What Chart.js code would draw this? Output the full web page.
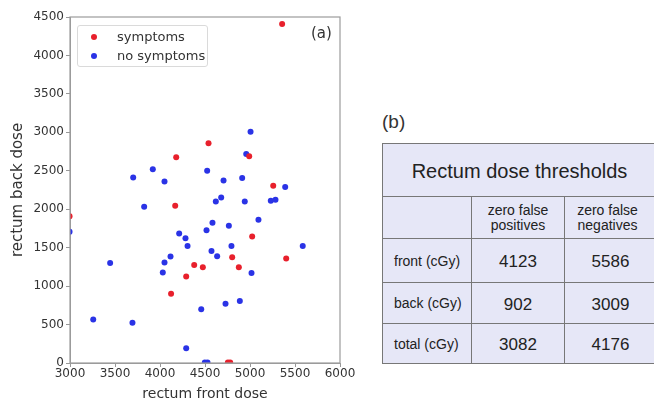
<!DOCTYPE html>
<html>
<head>
<meta charset="utf-8">
<script src="https://cdn.jsdelivr.net/npm/chart.js@4"></script>
<style>
  html, body { margin: 0; padding: 0; background: #fff; }
  body { width: 654px; height: 401px; position: relative; overflow: hidden; }
  #scatter { position: absolute; left: 0; top: 0; }
  .legend {
    position: absolute; left: 77px; top: 25px; width: 129px; height: 40px;
    border: 1px solid #dadada; border-radius: 3px; background: rgba(255,255,255,0.85);
    font-family: "DejaVu Sans", sans-serif; font-size: 13px; color: #333;
  }
  .legend .row { position: absolute; left: 0; height: 16px; line-height: 16px; }
  .legend .dot { position: absolute; left: 13px; top: 5px; width: 6px; height: 6px; border-radius: 50%; }
  .legend .lbl { position: absolute; left: 39px; top: 0; white-space: nowrap; }
  .tag { position: absolute; color: #333; }
  table.thr {
    position: absolute; left: 382px; top: 143px; width: 274px;
    border-collapse: collapse; table-layout: fixed;
    background: #e6e7f7; font-family: "Liberation Sans", Arial, sans-serif; color: #222;
  }
  table.thr td { border: 1px solid #777; padding: 0; text-align: center; vertical-align: middle; }
  table.thr td.rl { text-align: left; padding-left: 11px; font-size: 14px; }
  table.thr td.hd { font-size: 14px; line-height: 15px; }
  table.thr td.v { font-size: 17px; padding-top: 3px; }
</style>
</head>
<body>
<canvas id="scatter" width="360" height="401"></canvas>

<div class="legend">
  <div class="row" style="top:3px;"><span class="dot" style="background:#e8202c"></span><span class="lbl">symptoms</span></div>
  <div class="row" style="top:22px;"><span class="dot" style="background:#2a33e6"></span><span class="lbl">no symptoms</span></div>
</div>
<div class="tag" style="left:311px; top:24px; font-family:'DejaVu Sans',sans-serif; font-size:15px;">(a)</div>
<div class="tag" style="left:382px; top:111px; font-family:'Liberation Sans',Arial,sans-serif; font-size:19px;">(b)</div>

<table class="thr">
  <colgroup><col style="width:89px"><col style="width:93px"><col style="width:92px"></colgroup>
  <tr style="height:53px"><td colspan="3" style="font-size:20px; padding-top:3px;">Rectum dose thresholds</td></tr>
  <tr style="height:42px"><td></td><td class="hd">zero false<br>positives</td><td class="hd" style="padding-right:6px">zero false<br>negatives</td></tr>
  <tr style="height:44px"><td class="rl">front (cGy)</td><td class="v">4123</td><td class="v">5586</td></tr>
  <tr style="height:41px"><td class="rl">back (cGy)</td><td class="v">902</td><td class="v">3009</td></tr>
  <tr style="height:40px"><td class="rl">total (cGy)</td><td class="v">3082</td><td class="v">4176</td></tr>
</table>

<script>
// rectum front dose (x) / back dose (y)
const symptomsX = [5357, 4539, 4180, 4991, 5258, 4169, 2995, 5024, 4802, 5402, 4380, 4476, 4876, 4291, 4123, 4754, 4780];
const symptomsY = [4409, 2858, 2675, 2688, 2305, 2045, 1910, 1645, 1376, 1358, 1276, 1245, 1245, 1124, 902, 5, 5];

const noSymptomsX = [5006, 4958, 4524, 3920, 3702, 4050, 4706, 4913, 5391, 3824,
                     4620, 4680, 4942, 5231, 5283, 5094, 4583, 4517, 4765, 4213,
                     4283, 4306, 4572, 4794, 5586, 4635, 4117, 4050, 3446, 5017,
                     4031, 4728, 4887, 4458, 3258, 3694, 4291, 4498, 4528, 2995];
const noSymptomsY = [3009, 2718, 2501, 2519, 2414, 2362, 2375, 2405, 2288, 2031,
                     2101, 2154, 2101, 2110, 2123, 1862, 1823, 1728, 1784, 1684,
                     1623, 1523, 1458, 1523, 1523, 1389, 1385, 1306, 1299, 1171,
                     1176, 772, 806, 698, 567, 524, 193, 5, 5, 1706];

function toPoints(xs, ys) {
  return xs.map((x, i) => ({ x: x, y: ys[i] }));
}

// matplotlib-like box round the plot
const frame = {
  id: 'frame',
  afterDraw(chart) {
    const a = chart.chartArea, ctx = chart.ctx;
    ctx.save();
    ctx.strokeStyle = '#9c9c9c';
    ctx.lineWidth = 1.2;
    ctx.strokeRect(a.left, a.top, a.right - a.left, a.bottom - a.top);
    ctx.restore();
  }
};

const axisFont = { family: 'DejaVu Sans', size: 12 };
const plain = v => String(v);

new Chart(document.getElementById('scatter').getContext('2d'), {
  type: 'scatter',
  data: {
    datasets: [{
      label: 'symptoms',
      data: toPoints(symptomsX, symptomsY),
      backgroundColor: '#e8202c',
      borderWidth: 0,
      pointRadius: 3
    }, {
      label: 'no symptoms',
      data: toPoints(noSymptomsX, noSymptomsY),
      backgroundColor: '#2a33e6',
      borderWidth: 0,
      pointRadius: 3
    }]
  },
  options: {
    responsive: false,
    animation: false,
    devicePixelRatio: 1,
    layout: { padding: { top: 17, right: 20, left: 0, bottom: 0 } },
    plugins: { legend: { display: false }, tooltip: { enabled: false } },
    scales: {
      x: {
        type: 'linear', min: 3000, max: 6000,
        ticks: { stepSize: 500, font: axisFont, color: '#333', padding: 0, maxRotation: 0, callback: plain },
        grid: { drawOnChartArea: false, tickLength: 4, color: '#999' },
        border: { color: '#9c9c9c' },
        title: { display: true, text: 'rectum front dose', color: '#333',
                 font: { family: 'DejaVu Sans', size: 14, lineHeight: 1 }, padding: { top: 0, bottom: 0 } },
        afterFit(scale) { scale.height = 38; }
      },
      y: {
        type: 'linear', min: 0, max: 4500,
        ticks: { stepSize: 500, font: axisFont, color: '#333', padding: 2, callback: plain },
        grid: { drawOnChartArea: false, tickLength: 4, color: '#999' },
        border: { color: '#9c9c9c' },
        title: { display: true, text: 'rectum back dose', color: '#333',
                 font: { family: 'DejaVu Sans', size: 15, lineHeight: 1.2 }, padding: { top: 9, bottom: 0 } },
        afterFit(scale) { scale.width = 70; }
      }
    }
  },
  plugins: [frame]
});
</script>
</body>
</html>
